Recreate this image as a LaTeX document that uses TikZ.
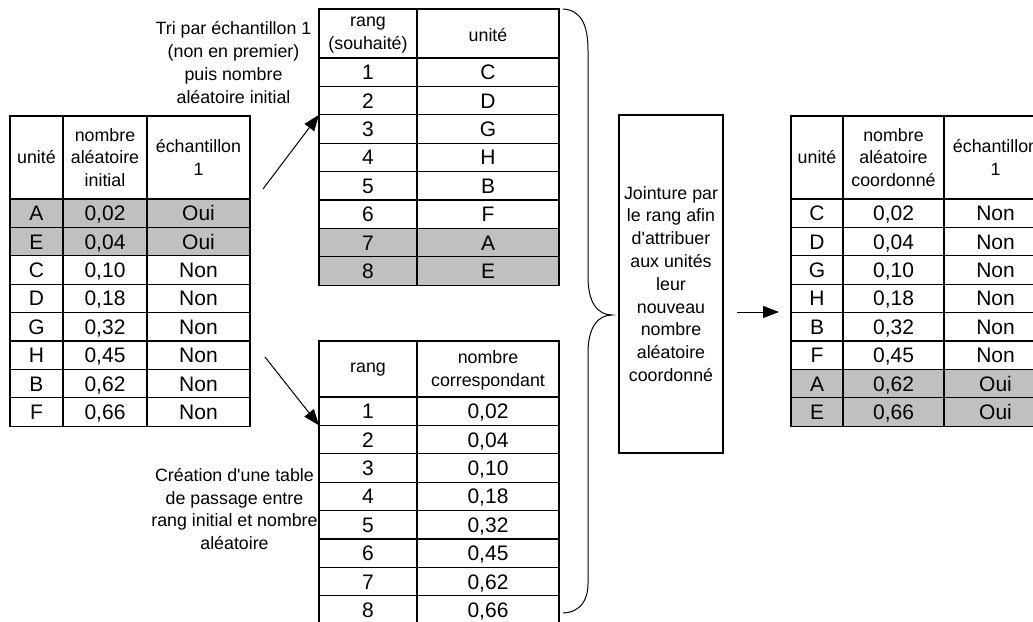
\documentclass[tikz,border=0pt]{standalone}
\usepackage{fontspec}
\setmainfont{Liberation Sans}
\usetikzlibrary{arrows.meta}
\definecolor{cellgray}{RGB}{192,192,192}
\begin{document}
\begin{tikzpicture}[x=1pt,y=-1pt,
  grid/.style={line width=1.3pt},
  shade/.style={fill=cellgray},
  cell/.style={font=\fontsize{21}{24}\selectfont, inner sep=0pt, text height=15pt, text depth=0pt, anchor=center},
  head/.style={font=\fontsize{17.8}{22.8}\selectfont, align=center, inner sep=0pt},
  note/.style={font=\fontsize{17.8}{22.8}\selectfont, align=center, inner sep=0pt},
  arr/.style={line width=1pt, -{Triangle[length=16pt,width=12pt]}},
  bracestyle/.style={line width=1pt}
]
\useasboundingbox (0,0) rectangle (1033,621);

% ---------- left table ----------
\fill[shade] (10,199) rectangle (250,255.8);
\foreach \x in {63,147} \draw[grid] (\x,116) -- (\x,426.2);
\draw[grid] (10,199) -- (250,199);
\foreach \k in {1,...,7} \draw[grid] (10,{199+\k*28.4}) -- (250,{199+\k*28.4});
\draw[grid] (10,116) rectangle (250,426.2);
\node[head] (L-h1) at (36.5,157.5) {unité};
\node[head] (L-h2) at (105,157.5) {nombre\\aléatoire\\initial};
\node[head] (L-h3) at (198.5,157.5) {échantillon\\1};
\foreach \u/\n/\e [count=\i] in {A/0{,}02/Oui,E/0{,}04/Oui,C/0{,}10/Non,D/0{,}18/Non,G/0{,}32/Non,H/0{,}45/Non,B/0{,}62/Non,F/0{,}66/Non}{
  \node[cell] (L-\i-1) at (36.5,{199+(\i-0.5)*28.4}) {\u};
  \node[cell] (L-\i-2) at (105,{199+(\i-0.5)*28.4}) {\n};
  \node[cell] (L-\i-3) at (198.5,{199+(\i-0.5)*28.4}) {\e};
}

% ---------- top middle table ----------
\fill[shade] (319,228.4) rectangle (559,285.2);
\draw[grid] (417,9) -- (417,285.2);
\draw[grid] (319,58) -- (559,58);
\foreach \k in {1,...,7} \draw[grid] (319,{58+\k*28.4}) -- (559,{58+\k*28.4});
\draw[grid] (319,9) rectangle (559,285.2);
\node[head] (T-h1) at (368,35) {rang\\(souhaité)};
\node[head] (T-h2) at (488,35) {unité};
\foreach \u [count=\i] in {C,D,G,H,B,F,A,E}{
  \node[cell] (T-\i-1) at (368,{58+(\i-0.5)*28.4}) {\i};
  \node[cell] (T-\i-2) at (488,{58+(\i-0.5)*28.4}) {\u};
}
\coordinate (T-in) at (319,114.8);

% ---------- bottom middle table ----------
\draw[grid] (417,341) -- (417,624.2);
\draw[grid] (319,397) -- (559,397);
\foreach \k in {1,...,7} \draw[grid] (319,{397+\k*28.4}) -- (559,{397+\k*28.4});
\draw[grid] (319,341) rectangle (559,624.2);
\node[head] (B-h1) at (368,370) {rang};
\node[head] (B-h2) at (488,370) {nombre\\correspondant};
\foreach \n [count=\i] in {0{,}02,0{,}04,0{,}10,0{,}18,0{,}32,0{,}45,0{,}62,0{,}66}{
  \node[cell] (B-\i-1) at (368,{397+(\i-0.5)*28.4}) {\i};
  \node[cell] (B-\i-2) at (488,{397+(\i-0.5)*28.4}) {\n};
}
\coordinate (B-in) at (319,425.4);

% ---------- notes and arrows ----------
\node[note] (tri) at (233.5,62.5) {Tri par échantillon 1\\(non en premier)\\puis nombre\\aléatoire initial};
\node[note] (crea) at (234.5,509) {Création d\textquotesingle une table\\de passage entre\\rang initial et nombre\\aléatoire};
\coordinate (a1) at (263,189);
\coordinate (a2) at (265,357);
\draw[arr] (a1) -- (T-in);
\draw[arr] (a2) -- (B-in);

% ---------- brace ----------
\draw[bracestyle] (563,9) .. controls (581,10) and (588,25) .. (588,50)
  -- (588,277) .. controls (588,303) and (598,315) .. (612,315)
  .. controls (598,315) and (588,327) .. (588,353)
  -- (588,583) .. controls (588,600) and (581,612) .. (563,613);

% ---------- join box ----------
\node[note, draw, line width=1.3pt, minimum width=104pt, minimum height=338pt] (join) at (671,284)
  {Jointure par\\le rang afin\\d\textquotesingle attribuer\\aux unités\\leur\\nouveau\\nombre\\aléatoire\\coordonné};
\coordinate (r1) at (737,312);
\coordinate (R-in) at (779,312);
\draw[arr] (r1) -- (R-in);

% ---------- right table ----------
\fill[shade] (791,369.4) rectangle (1047,426.2);
\foreach \x in {843,944} \draw[grid] (\x,116) -- (\x,426.2);
\draw[grid] (791,199) -- (1047,199);
\foreach \k in {1,...,7} \draw[grid] (791,{199+\k*28.4}) -- (1047,{199+\k*28.4});
\draw[grid] (791,116) rectangle (1047,426.2);
\node[head] (R-h1) at (817,157.5) {unité};
\node[head] (R-h2) at (893.5,157.5) {nombre\\aléatoire\\coordonné};
\node[head] (R-h3) at (995.5,157.5) {échantillon\\1};
\foreach \u/\n/\e [count=\i] in {C/0{,}02/Non,D/0{,}04/Non,G/0{,}10/Non,H/0{,}18/Non,B/0{,}32/Non,F/0{,}45/Non,A/0{,}62/Oui,E/0{,}66/Oui}{
  \node[cell] (R-\i-1) at (817,{199+(\i-0.5)*28.4}) {\u};
  \node[cell] (R-\i-2) at (893.5,{199+(\i-0.5)*28.4}) {\n};
  \node[cell] (R-\i-3) at (995.5,{199+(\i-0.5)*28.4}) {\e};
}
\end{tikzpicture}
\end{document}
